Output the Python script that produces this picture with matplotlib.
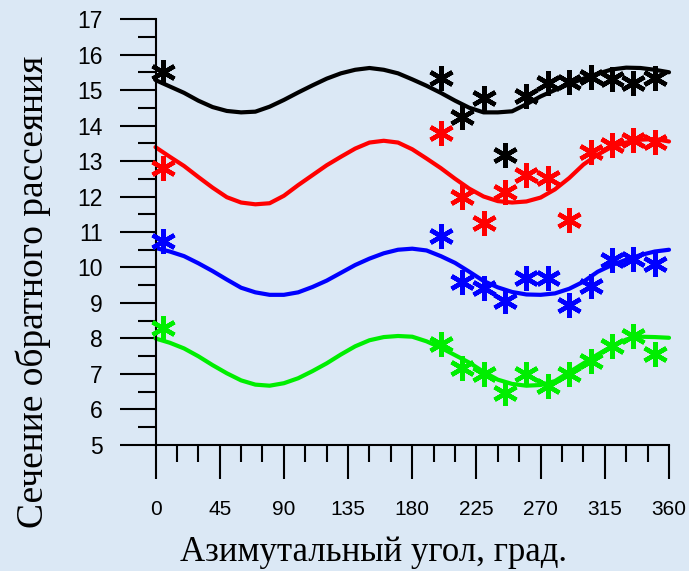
import matplotlib
matplotlib.use("Agg")
import matplotlib.pyplot as plt
from matplotlib.ticker import MultipleLocator

# ---- data ----
curve_angles = [0, 10, 20, 30, 40, 50, 60, 70, 80, 90, 100, 110, 120, 130, 140, 150, 160, 170, 180,
                190, 200, 210, 220, 230, 240, 250, 260, 270, 280, 290, 300, 310, 320, 330, 340, 350, 360]

black_curve = [15.28, 15.10, 14.92, 14.70, 14.52, 14.41, 14.37, 14.39, 14.53, 14.72, 14.93, 15.13, 15.32,
               15.47, 15.57, 15.62, 15.57, 15.47, 15.30, 15.12, 14.92, 14.70, 14.50, 14.37, 14.37, 14.40,
               14.60, 14.82, 15.00, 15.17, 15.32, 15.46, 15.58, 15.63, 15.62, 15.57, 15.50]
red_curve = [13.39, 13.12, 12.86, 12.55, 12.25, 11.98, 11.83, 11.78, 11.81, 12.02, 12.32, 12.60, 12.88,
             13.12, 13.35, 13.52, 13.57, 13.52, 13.33, 13.07, 12.80, 12.50, 12.22, 12.00, 11.87, 11.83,
             11.86, 11.97, 12.20, 12.52, 12.90, 13.18, 13.40, 13.52, 13.60, 13.62, 13.55]
blue_curve = [10.55, 10.45, 10.32, 10.12, 9.90, 9.66, 9.43, 9.30, 9.23, 9.23, 9.30, 9.45, 9.63,
              9.85, 10.07, 10.25, 10.40, 10.50, 10.53, 10.48, 10.32, 10.13, 9.88, 9.62, 9.44, 9.31,
              9.24, 9.23, 9.27, 9.40, 9.60, 9.88, 10.07, 10.22, 10.35, 10.45, 10.50]
green_curve = [8.00, 7.88, 7.72, 7.50, 7.25, 7.02, 6.82, 6.70, 6.67, 6.74, 6.88, 7.08, 7.30,
               7.55, 7.78, 7.95, 8.04, 8.07, 8.05, 7.92, 7.74, 7.53, 7.32, 7.06, 6.84, 6.72,
               6.67, 6.69, 6.80, 7.05, 7.30, 7.55, 7.78, 7.97, 8.05, 8.04, 8.02]

point_angles = [5, 200, 215, 230, 245, 260, 275, 290, 305, 320, 335, 350]
black_points = [15.50, 15.33, 14.25, 14.78, 13.16, 14.82, 15.21, 15.23, 15.37, 15.31, 15.21, 15.35]
red_points = [12.79, 13.78, 11.98, 11.24, 12.12, 12.60, 12.51, 11.33, 13.25, 13.44, 13.58, 13.53]
blue_points = [10.76, 10.90, 9.58, 9.41, 9.07, 9.69, 9.69, 8.93, 9.49, 10.20, 10.25, 10.11]
green_points = [8.30, 7.85, 7.18, 7.01, 6.47, 7.01, 6.67, 7.01, 7.37, 7.80, 8.08, 7.57]

x_ticks = [0, 45, 90, 135, 180, 225, 270, 315, 360]
y_ticks = [5, 6, 7, 8, 9, 10, 11, 12, 13, 14, 15, 16, 17]

series = [
    (black_curve, black_points, "#000000"),
    (red_curve, red_points, "#ff0000"),
    (blue_curve, blue_points, "#0000ff"),
    (green_curve, green_points, "#00ee00"),
]

bg = "#dbe8f5"
fig = plt.figure(figsize=(6.89, 5.71), dpi=100, facecolor=bg)
ax = fig.add_axes([0.2257, 0.2207, 0.7453, 0.746])
ax.set_facecolor(bg)

for curve, pts, col in series:
    ax.plot(curve_angles, curve, color=col, lw=3.0, clip_on=False, zorder=2,
            solid_capstyle="round")
    ax.plot(point_angles, pts, linestyle="none", marker=(6, 2, 0), markersize=18,
            markeredgewidth=3.2, color=col, clip_on=False, zorder=3)

ax.set_xlim(0, 360)
ax.set_ylim(5, 17)
ax.set_xticks(x_ticks)
ax.set_yticks(y_ticks)
ax.xaxis.set_minor_locator(MultipleLocator(15))
ax.yaxis.set_minor_locator(MultipleLocator(0.5))

for s in ["top", "right"]:
    ax.spines[s].set_visible(False)
for s in ["left", "bottom"]:
    ax.spines[s].set_linewidth(1.5)
    ax.spines[s].set_color("black")

ax.tick_params(axis="x", which="major", direction="out", length=24.5, width=1.5, pad=15,
               labelsize=15)
ax.tick_params(axis="x", which="minor", direction="out", length=12, width=1.5)
ax.tick_params(axis="y", which="major", direction="out", length=26, width=1.5, pad=12,
               labelsize=16.5)
ax.tick_params(axis="y", which="minor", direction="out", length=13, width=1.5)
for lab in ax.get_xticklabels() + ax.get_yticklabels():
    lab.set_fontfamily("Liberation Sans")

fig.text(373.5 / 689, 1 - 561 / 571, "Азимутальный угол, град.", ha="center", va="baseline",
         fontsize=25, family="Liberation Serif")
fig.text(33 / 689, 1 - 292 / 571, "Сечение обратного рассеяния", ha="center", va="center",
         rotation=90, fontsize=27, family="Liberation Serif")

fig.savefig("out.png", dpi=100, facecolor=bg)
